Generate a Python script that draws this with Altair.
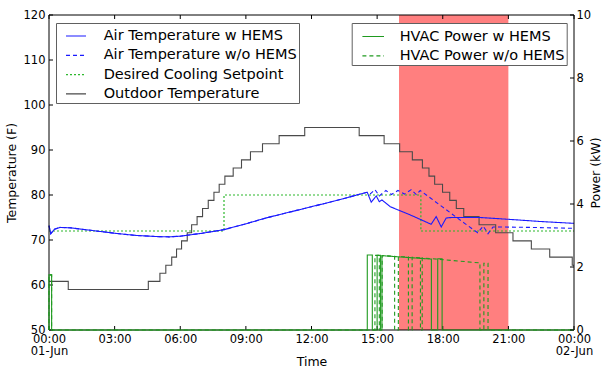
import altair as alt
import pandas as pd

# ---------------- data ----------------
# Outdoor temperature (F): hour at which each level starts
out_hours = [0.0, 0.88,
             4.54, 5.07, 5.34, 5.61, 5.83, 6.06, 6.32, 6.52, 6.77, 7.02,
             7.28, 7.54, 7.78, 8.04, 8.42, 8.80, 9.21, 9.76, 10.52, 11.69,
             14.18, 15.32, 16.03, 16.61, 17.07, 17.37, 17.63, 17.99, 18.32,
             18.62, 18.96, 19.66, 20.42, 21.21, 22.05, 22.89, 23.92, 24.0]
out_temp = [60.8, 59.0,
            60.8, 62.6, 64.4, 66.2, 68.0, 69.8, 71.6, 73.4, 75.2, 77.0,
            78.8, 80.6, 82.4, 84.2, 86.0, 87.8, 89.6, 91.4, 93.2, 95.0,
            93.2, 91.4, 89.6, 87.8, 86.0, 84.2, 82.4, 80.6, 78.8,
            77.0, 75.2, 73.4, 71.6, 69.8, 68.0, 66.2, 64.4, 64.4]

# Desired cooling setpoint (F)
set_hours = [0.0, 8.0, 17.0, 24.0]
set_temp = [72.0, 80.0, 72.0, 72.0]

# Indoor air temperature with HEMS (F)
air_w_hours = [0.0, 0.08, 0.25, 0.5, 1.0, 2.0, 3.0, 4.0, 5.0, 5.5, 6.0, 7.0,
               8.0, 9.0, 10.0, 11.0, 12.0, 13.0, 14.0, 14.55, 14.73, 14.96,
               15.1, 15.22, 15.6, 16.5, 17.47, 17.7, 17.93, 18.16, 18.4,
               19.7, 21.0, 22.5, 24.0]
air_w_temp = [73.2, 71.4, 72.4, 72.8, 72.7, 72.1, 71.5, 71.0, 70.75, 70.7,
              70.85, 71.5, 72.3, 73.6, 75.0, 76.2, 77.4, 78.6, 79.9, 80.6,
              78.4, 79.8, 78.5, 78.9, 77.4, 75.6, 73.5, 75.2, 72.9, 74.9,
              75.0, 75.0, 74.6, 74.1, 73.7]

# Indoor air temperature without HEMS (F): same as above until 14:33
air_wo_hours = air_w_hours[:20] + [14.7, 14.9, 15.1, 15.4, 15.65, 15.95,
                                   16.25, 16.56, 16.79, 16.97, 18.0, 19.0,
                                   19.6, 19.85, 20.07, 20.3, 20.6, 22.0, 24.0]
air_wo_temp = air_w_temp[:20] + [80.3, 81.2, 79.8, 81.0, 80.1, 81.0,
                                 80.2, 81.2, 80.1, 81.0, 77.3, 73.7,
                                 71.6, 73.1, 71.4, 72.9, 72.9, 72.8, 72.6]

# HVAC on-periods (hours) and power at their start / end (kW)
hvac_w_on = [0.0, 14.55, 15.0, 15.22, 17.77]
hvac_w_off = [0.12, 14.78, 15.15, 17.48, 17.97]
hvac_w_kw_on = [1.75, 2.38, 2.37, 2.36, 2.26]
hvac_w_kw_off = [1.75, 2.38, 2.37, 2.25, 2.26]

hvac_wo_on = [0.0, 14.9, 15.23, 15.97, 16.6, 17.06, 19.88]
hvac_wo_off = [0.12, 15.1, 15.8, 16.43, 16.98, 19.7, 20.07]
hvac_wo_kw_on = [1.75, 2.37, 2.36, 2.33, 2.31, 2.29, 2.12]
hvac_wo_kw_off = [1.75, 2.37, 2.34, 2.32, 2.29, 2.13, 2.12]

# Peak-price window
peak_start = [16.0]
peak_end = [21.0]

temp_names = ["Air Temperature w HEMS", "Air Temperature w/o HEMS",
              "Desired Cooling Setpoint", "Outdoor Temperature"]
power_names = ["HVAC Power w HEMS", "HVAC Power w/o HEMS"]

# ---------------- tables ----------------
def series(name, hours, values):
    return pd.DataFrame({"h": hours, "v": values, "series": name,
                         "i": range(len(hours))})


def pulses(name, on, off, kw_on, kw_off):
    hrs, kws = [0.0], [0.0]
    for s, e, a, b in zip(on, off, kw_on, kw_off):
        hrs += [s, s, e, e]
        kws += [0.0, a, b, 0.0]
    hrs.append(24.0)
    kws.append(0.0)
    return series(name, hrs, kws)


FONT = "DejaVu Sans"
BLUE = "#1a1aff"
GREEN = "#1f9a1f"
SETPOINT = "#2db82d"
GRAY = "#4a4a4a"

x_axis = alt.Axis(
    values=list(range(0, 25, 3)),
    labelExpr=("datum.value == 0 ? ['00:00', '01-Jun'] : "
               "datum.value == 24 ? ['00:00', '02-Jun'] : "
               "(datum.value < 10 ? '0' : '') + datum.value + ':00'"),
    labelFlush=False, labelOverlap=False, labelFontSize=11.5,
    labelLineHeight=12, labelBaseline="top", labelPadding=3,
    tickSize=0, domain=False, grid=False,
    title="Time", titleFontSize=12.5, titleFontWeight="normal",
    titleY=31, titleBaseline="middle",
)
X = alt.X("h:Q", scale=alt.Scale(domain=[0, 24], nice=False), axis=x_axis)

temp_axis = alt.Axis(
    values=list(range(50, 121, 10)), labelFontSize=11.5, labelPadding=4,
    tickSize=0, domain=False, grid=False,
    title="Temperature (F)", titleFontSize=12.5, titleFontWeight="normal",
    titlePadding=5,
)
power_axis = alt.Axis(
    orient="right", values=list(range(0, 11, 2)), labelFontSize=11.5,
    labelPadding=2, tickSize=0, domain=False, grid=False,
    title="Power (kW)", titleFontSize=12.5, titleFontWeight="normal",
    titleAngle=270, titleX=21, titleY=157.5, titleAlign="center",
    titleBaseline="middle",
)
temp_scale = alt.Scale(domain=[50, 120], nice=False)
power_scale = alt.Scale(domain=[0, 10], nice=False)

nb = "\u00a0"
temp_legend = alt.Legend(
    title=None, orient="none", legendX=7, legendY=8, direction="vertical",
    symbolType="stroke", symbolSize=400, symbolStrokeWidth=1.2,
    symbolOffset=7, labelOffset=16.7, labelFontSize=14.5, labelFont=FONT,
    labelColor="black", labelLimit=400, padding=2, rowPadding=1.3,
    strokeColor="#606060", fillColor="white",
    labelExpr=f"datum.label + '{nb}{nb}'",
)
power_legend = alt.Legend(
    title=None, orient="none", legendX=302.7, legendY=8, direction="vertical",
    symbolType="stroke", symbolSize=467, symbolStrokeWidth=1.2,
    symbolOffset=8, labelOffset=15, labelFontSize=14.5, labelFont=FONT,
    labelColor="black", labelLimit=400, padding=2, rowPadding=1.3,
    strokeColor="#606060", fillColor="white",
    labelExpr=f"datum.label + '{nb}{nb}{nb}'",
)

temp_color = alt.Color("series:N", legend=temp_legend, scale=alt.Scale(
    domain=temp_names, range=[BLUE, BLUE, SETPOINT, GRAY]))
temp_dash = alt.StrokeDash("series:N", legend=temp_legend, scale=alt.Scale(
    domain=temp_names, range=[[1, 0], [4, 3], [2, 2], [1, 0]]))
power_color = alt.Color("series:N", legend=power_legend, scale=alt.Scale(
    domain=power_names, range=[GREEN, GREEN]))
power_dash = alt.StrokeDash("series:N", legend=power_legend, scale=alt.Scale(
    domain=power_names, range=[[1, 0], [4, 3]]))

Yt = alt.Y("v:Q", scale=temp_scale, axis=temp_axis)
Yp = alt.Y("v:Q", scale=power_scale, axis=power_axis)

# ---------------- temperature layers ----------------
peak = alt.Chart(pd.DataFrame({"h": peak_start, "h2": peak_end})).mark_rect(
    color="#ff0000", opacity=0.5
).encode(x=X, x2="h2:Q", y=alt.datum(50, scale=temp_scale), y2=alt.datum(120))

outdoor = alt.Chart(series(temp_names[3], out_hours, out_temp)).mark_line(
    interpolate="step-after", strokeWidth=1.1
).encode(x=X, y=Yt, color=temp_color, strokeDash=temp_dash)

setpoint = alt.Chart(series(temp_names[2], set_hours, set_temp)).mark_line(
    interpolate="step-after", strokeWidth=1.2
).encode(x=X, y=Yt, color=temp_color, strokeDash=temp_dash)

air_w = alt.Chart(series(temp_names[0], air_w_hours, air_w_temp)).mark_line(
    strokeWidth=1.1
).encode(x=X, y=Yt, color=temp_color, strokeDash=temp_dash)

air_wo = alt.Chart(series(temp_names[1], air_wo_hours, air_wo_temp)).mark_line(
    strokeWidth=1.1
).encode(x=X, y=Yt, color=temp_color, strokeDash=temp_dash)

left_ticks = alt.Chart(pd.DataFrame({"v": list(range(50, 121, 10))})).mark_rule(
    color="black"
).encode(y=Yt, x=alt.value(0), x2=alt.value(4))

hour_ticks_df = pd.DataFrame({"h": list(range(0, 25, 3))})
bottom_ticks = alt.Chart(hour_ticks_df).mark_rule(color="black").encode(
    x=X, y=alt.value(311), y2=alt.value(315))
top_ticks = alt.Chart(hour_ticks_df).mark_rule(color="black").encode(
    x=X, y=alt.value(0), y2=alt.value(4))

frame_df = pd.DataFrame({"v": [50, 120]})
frame_h = alt.Chart(frame_df).mark_rule(color="black", strokeWidth=1).encode(y=Yt)
frame_v = alt.Chart(pd.DataFrame({"h": [0, 24]})).mark_rule(
    color="black", strokeWidth=1).encode(x=X)

temp_layer = alt.layer(peak, outdoor, setpoint, air_w, air_wo,
                       left_ticks, bottom_ticks, top_ticks, frame_h, frame_v)

# ---------------- power layers ----------------
p_w = alt.Chart(pulses(power_names[0], hvac_w_on, hvac_w_off,
                       hvac_w_kw_on, hvac_w_kw_off)).mark_line(strokeWidth=1.1).encode(
    x=X, y=Yp, order="i:Q", color=power_color, strokeDash=power_dash)
p_wo = alt.Chart(pulses(power_names[1], hvac_wo_on, hvac_wo_off,
                        hvac_wo_kw_on, hvac_wo_kw_off)).mark_line(strokeWidth=1.1).encode(
    x=X, y=Yp, order="i:Q", color=power_color, strokeDash=power_dash)
right_ticks = alt.Chart(pd.DataFrame({"v": list(range(0, 11, 2))})).mark_rule(
    color="black"
).encode(y=Yp, x=alt.value(521), x2=alt.value(525))

power_layer = alt.layer(p_w, p_wo, right_ticks)

chart = alt.layer(temp_layer, power_layer).resolve_scale(
    y="independent", color="independent", strokeDash="independent"
).properties(
    width=525, height=315, autosize="none",
    padding={"left": 49, "top": 15, "right": 28, "bottom": 42},
).configure(font=FONT).configure_view(stroke=None).configure_axis(
    labelColor="black", titleColor="black", labelFont=FONT, titleFont=FONT
)

chart.save("out.html", embed_options={"renderer": "svg", "actions": False})
